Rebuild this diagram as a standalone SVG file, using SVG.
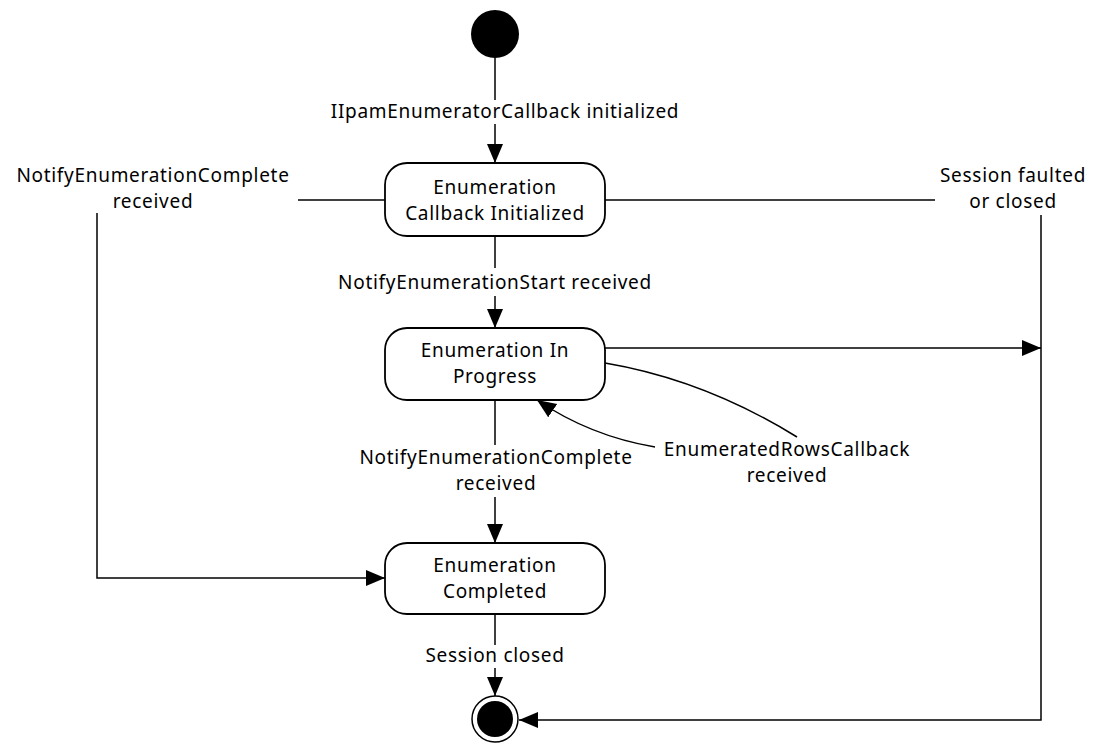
<svg xmlns="http://www.w3.org/2000/svg" width="1095" height="745" viewBox="0 0 1095 745">
<style>
.st{fill:#fff;stroke:#000;stroke-width:1.8}
.ln{fill:none;stroke:#000;stroke-width:1.5}
text{font-family:"Noto Sans","Open Sans","DejaVu Sans",sans-serif;font-size:19px;letter-spacing:0.7px;fill:#000;text-anchor:middle}
</style>
<defs>
<marker id="ah" markerUnits="userSpaceOnUse" markerWidth="22" markerHeight="18" refX="19" refY="8" orient="auto">
<path d="M0,0 L19,8 L0,16 Z" fill="#000"/>
</marker>
</defs>
<rect width="1095" height="745" fill="#fff"/>
<g id="connectors">
<path class="ln" d="M495,58 V100"/>
<path class="ln" d="M495,124 V163" marker-end="url(#ah)"/>
<path class="ln" d="M385,200 H298"/>
<path class="ln" d="M97,213 V578 H385" marker-end="url(#ah)"/>
<path class="ln" d="M605,200 H935"/>
<path class="ln" d="M1041,215 V720 H519" marker-end="url(#ah)"/>
<path class="ln" d="M495,236 V268"/>
<path class="ln" d="M495,296 V328" marker-end="url(#ah)"/>
<path class="ln" d="M605,348 H1041" marker-end="url(#ah)"/>
<path class="ln" d="M605,363 Q705,380 797,437"/>
<path class="ln" d="M655,447 Q590,436 537,400" marker-end="url(#ah)"/>
<path class="ln" d="M495,400 V445"/>
<path class="ln" d="M495,497 V543" marker-end="url(#ah)"/>
<path class="ln" d="M495,614 V645"/>
<path class="ln" d="M495,668 V696" marker-end="url(#ah)"/>
</g>
<g id="labels">
<text x="505" y="118">IIpamEnumeratorCallback initialized</text>
<text x="153" y="182">NotifyEnumerationComplete</text>
<text x="153" y="208">received</text>
<text x="1013" y="182">Session faulted</text>
<text x="1013" y="208">or closed</text>
<text x="495" y="289">NotifyEnumerationStart received</text>
<text x="496" y="464">NotifyEnumerationComplete</text>
<text x="496" y="490">received</text>
<text x="787" y="456">EnumeratedRowsCallback</text>
<text x="787" y="482">received</text>
<text x="495" y="662">Session closed</text>
</g>
<g id="start"><circle cx="495" cy="34" r="24" fill="#000"/></g>
<g id="s1"><rect class="st" x="385" y="163" width="220" height="73" rx="22"/>
<text x="495" y="194">Enumeration</text><text x="495" y="220">Callback Initialized</text></g>
<g id="s2"><rect class="st" x="385" y="328" width="220" height="72" rx="22"/>
<text x="495" y="357">Enumeration In</text><text x="495" y="383">Progress</text></g>
<g id="s3"><rect class="st" x="385" y="543" width="220" height="71" rx="22"/>
<text x="495" y="572">Enumeration</text><text x="495" y="598">Completed</text></g>
<g id="end"><circle cx="495" cy="719" r="23" fill="#fff" stroke="#000" stroke-width="1.5"/><circle cx="495" cy="719" r="18" fill="#000"/></g>
</svg>
